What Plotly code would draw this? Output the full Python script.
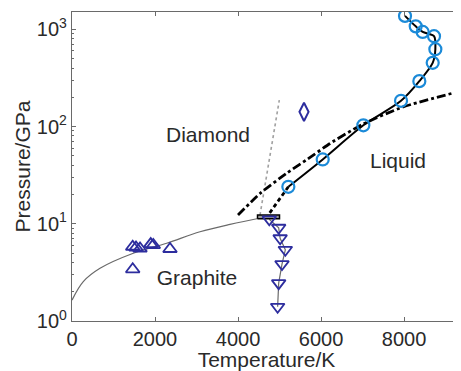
import plotly.graph_objects as go

# --- data ---
# blue circles (melting line data)
circ_T = [8024, 8282, 8450, 8723, 8755, 8691, 8369, 7928, 7020, 6041, 5213]
circ_P = [1374, 1072, 940, 850, 624, 452, 293, 184, 103, 45.9, 24]

# dashed extension of the melting line to the triple point
dash_T = [5213, 4720]
dash_P = [24, 12.2]

# dash-dot line
dd_T = [4000, 4530, 5173, 5815, 6217, 7012, 7976, 9373]
dd_P = [12.3, 20.5, 33.1, 50.8, 67.0, 106, 159, 232]

# dotted gray line
dot_T = [4530, 4995]
dot_P = [12.3, 187]

# thin gray graphite/diamond boundary curve
gd_T = [0, 272, 675, 1477, 2281, 3084, 3807, 4610]
gd_P = [1.64, 2.54, 3.48, 4.97, 6.31, 8.28, 9.86, 11.6]

# graphite-region up triangles
up_T = [1463, 1542, 1639, 1897, 1959, 2361, 1463]
up_P = [5.8, 5.7, 5.57, 6.18, 6.04, 5.5, 3.4]

# down triangles (graphite melting)
dn_T = [4754, 4980, 5015, 5140, 5060, 4980, 4955]
dn_P = [11.1, 9.1, 7.1, 5.4, 3.85, 2.45, 1.4]

# diamond marker
dia_T = [5590]
dia_P = [141.6]

# triple point box
box_T = [4470, 5000, 5000, 4470, 4470]
box_P = [11.25, 11.25, 12.3, 12.3, 11.25]

# region labels
lab_T = [3277, 7855, 3012]
lab_P = [77.8, 42, 2.64]
lab_text = ["Diamond", "Liquid", "Graphite"]

x_ticks = [0, 2000, 4000, 6000, 8000]
y_tickvals = [1, 10, 100, 1000]
y_ticktext = ["10<sup>0</sup>", "10<sup>1</sup>", "10<sup>2</sup>", "10<sup>3</sup>"]
y_minor = [m * d for d in (1, 10, 100, 1000) for m in range(2, 10)]

FONT = "Liberation Sans, Arial, Helvetica, sans-serif"
TXT = "#2a2a2a"
AX = "#6a6a6a"
NAVY = "#2d2d9e"
BLUE = "#1b8ad8"
FS = 21
TFS = 20

fig = go.Figure()

fig.add_trace(go.Scatter(x=gd_T, y=gd_P, mode="lines", line=dict(color="#6a6a6a", width=1.2, shape="spline")))
fig.add_trace(go.Scatter(x=dn_T, y=dn_P, mode="lines", line=dict(color="#6a6a6a", width=1.2)))
fig.add_trace(go.Scatter(x=dot_T, y=dot_P, mode="lines", line=dict(color="#a0a0a0", width=1.6, dash="dot")))
fig.add_trace(go.Scatter(x=dd_T, y=dd_P, mode="lines", line=dict(color="black", width=2.8, dash="dashdot", shape="spline", smoothing=0.6)))
fig.add_trace(go.Scatter(x=dash_T, y=dash_P, mode="lines", line=dict(color="black", width=2.8, dash="4px,3px")))
fig.add_trace(go.Scatter(x=circ_T, y=circ_P, mode="lines", line=dict(color="black", width=2, shape="spline", smoothing=0.8)))
fig.add_trace(go.Scatter(x=box_T, y=box_P, mode="lines", fill="toself", fillcolor="#9a9a9a",
                         line=dict(color="black", width=1.5)))
fig.add_trace(go.Scatter(x=circ_T, y=circ_P, mode="markers",
                         marker=dict(symbol="circle-open", size=12, color=BLUE, line=dict(width=2.2, color=BLUE))))
fig.add_trace(go.Scatter(x=up_T, y=up_P, mode="markers",
                         marker=dict(symbol="triangle-up-open", size=12, color=NAVY, line=dict(width=1.8, color=NAVY))))
fig.add_trace(go.Scatter(x=dn_T, y=dn_P, mode="markers",
                         marker=dict(symbol="triangle-down-open", size=12, color=NAVY, line=dict(width=1.8, color=NAVY))))
fig.add_trace(go.Scatter(x=dia_T, y=dia_P, mode="markers",
                         marker=dict(symbol="diamond-tall-open", size=13, color=NAVY, line=dict(width=2, color=NAVY))))
fig.add_trace(go.Scatter(x=lab_T, y=lab_P, mode="text", text=lab_text,
                         textfont=dict(family=FONT, size=FS, color=TXT)))

# page body has an 8px default margin, so the figure is sized to fill the rest of the window
fig.update_layout(
    width=453, height=363,
    margin=dict(l=64, r=0, t=4, b=50),
    paper_bgcolor="white", plot_bgcolor="white",
    showlegend=False,
    font=dict(family=FONT, size=FS, color=TXT),
)
fig.update_xaxes(
    range=[0, 9373], tickvals=x_ticks, ticks="inside", ticklen=4, tickcolor=AX,
    showline=True, linecolor=AX, linewidth=1.2, mirror="ticks", showgrid=False, zeroline=False,
    automargin=False, tickfont=dict(size=TFS, color=TXT),
    title=dict(text="Temperature/K", font=dict(size=FS, color=TXT), standoff=0),
)
fig.update_yaxes(
    type="log", range=[0, 3.178], tickvals=y_tickvals, ticktext=y_ticktext,
    ticks="inside", ticklen=4, tickcolor=AX,
    minor=dict(tickmode="array", tickvals=y_minor, ticks="inside", ticklen=2, tickcolor=AX, showgrid=False),
    showline=True, linecolor=AX, linewidth=1.2, mirror=False, showgrid=False, zeroline=False,
    automargin=False, tickfont=dict(size=TFS, color=TXT),
    title=dict(text="Pressure/GPa", font=dict(size=FS, color=TXT), standoff=0),
)

fig.write_html("out.html")
